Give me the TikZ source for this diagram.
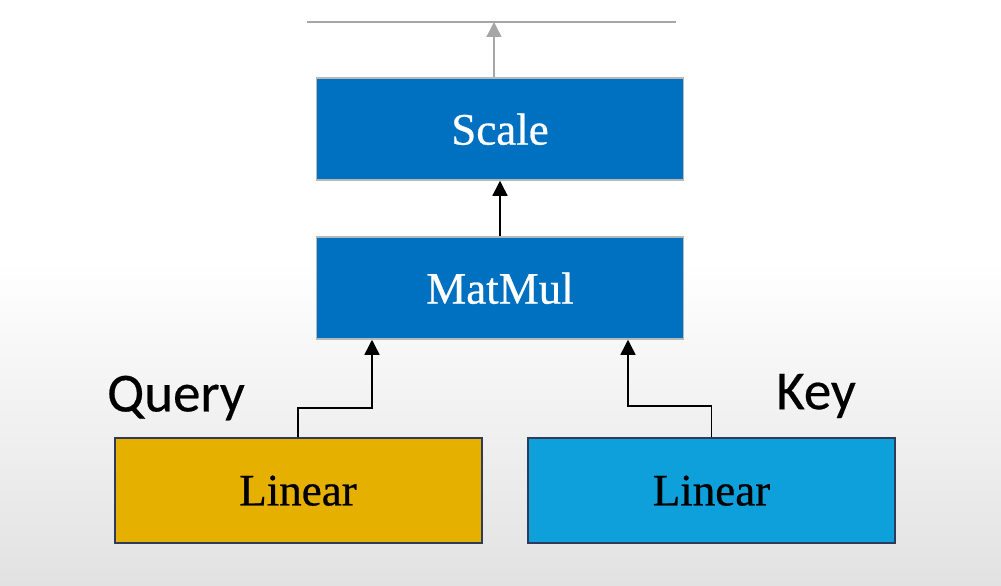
\documentclass[tikz,border=0pt]{standalone}
\usepackage{fontspec}
\setmainfont{Liberation Serif}[FakeBold=0.6]
\newfontfamily\labelfont{Carlito}[FakeBold=0.4]
\usetikzlibrary{arrows.meta}
\definecolor{dblue}{RGB}{0,112,192}
\definecolor{gold}{RGB}{230,176,0}
\definecolor{lblue}{RGB}{14,160,218}
\definecolor{navy}{RGB}{47,59,90}
\definecolor{lgray}{RGB}{166,166,166}
\definecolor{bgbot}{RGB}{226,226,226}
\tikzset{
  blk/.style={draw=lgray!80, line width=1.5pt, fill=dblue, text=white, minimum width=367pt, minimum height=102pt, inner sep=0pt, font=\fontsize{45}{50}\selectfont, text depth=0pt},
  lin/.style={draw=navy, line width=2pt, text=black, minimum width=367pt, minimum height=105pt, inner sep=0pt, font=\fontsize{45}{50}\selectfont, text depth=0pt},
  arr/.style={line width=1.5pt, -{Triangle[width=15pt,length=15pt]}},
  garr/.style={line width=1.5pt, lgray, -{Triangle[width=15pt,length=15pt]}},
  lbl/.style={font=\labelfont\fontsize{55}{60}\selectfont, text=black, inner sep=0pt}
}
\begin{document}
\begin{tikzpicture}[x=1pt,y=-1pt]
\useasboundingbox (0,0) rectangle (1001,586);
\fill[white] (0,0) rectangle (1001,586);
\shade[top color=white, bottom color=bgbot] (0,260) rectangle (1001,586);
% top line
\coordinate (tl) at (307,22);
\coordinate (tr) at (676,22);
\coordinate (top) at (494,22);
\draw[lgray, line width=2pt] (tl) -- (tr);
% boxes
\node[blk] (sc) at (500,129) {Scale};
\node[blk] (mm) at (500,288) {MatMul};
\node[lin, fill=gold] (ql) at (298,490.5) {Linear};
\node[lin, fill=lblue] (kl) at (711.5,490.5) {Linear};
% labels
\node[lbl] (q) at (176,398) {Query};
\node[lbl] (k) at (816,396) {Key};
% connectors
\draw[garr] (top|-sc.north) -- (top);
\draw[arr] (mm.north) -- (sc.south);
\coordinate (qa) at (372,408);
\coordinate (ka) at (628,406);
\draw[arr] (ql.north) |- (qa) -- (qa|-mm.south);
\draw[arr] (kl.north) |- (ka) -- (ka|-mm.south);
\end{tikzpicture}
\end{document}
